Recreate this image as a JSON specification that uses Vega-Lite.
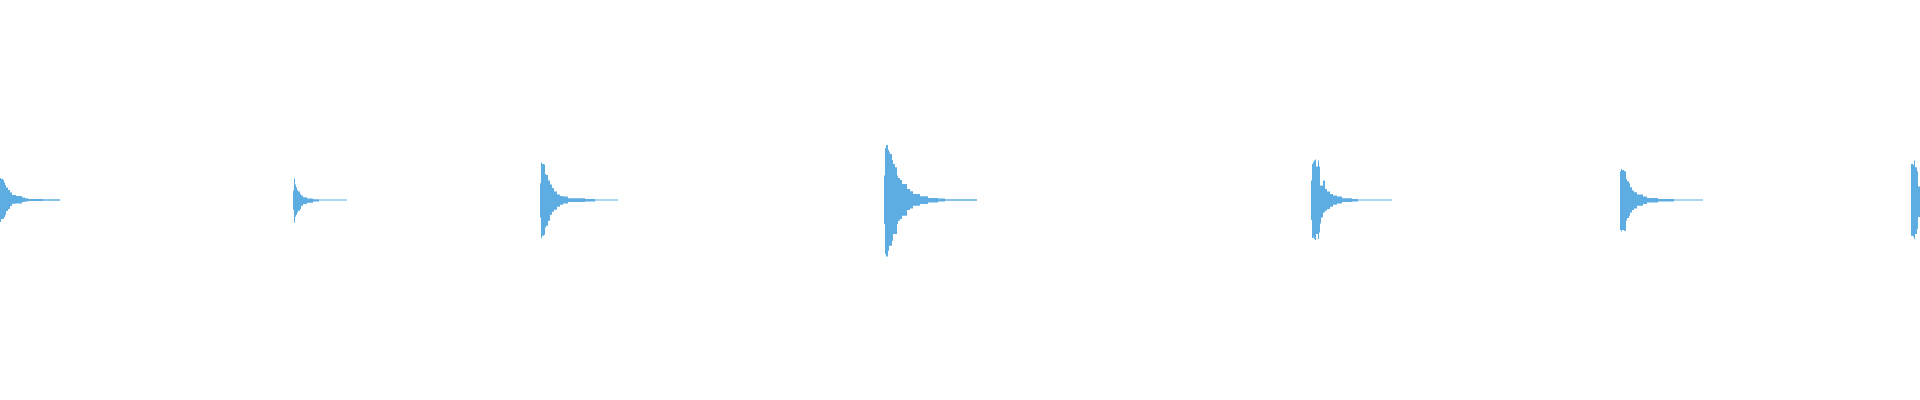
{
  "$schema": "https://vega.github.io/schema/vega-lite/v6.json",
  "description": "Audio waveform with seven decaying hits",
  "width": 1920,
  "height": 400,
  "autosize": {"type": "fit", "contains": "padding"},
  "padding": 0,
  "background": "white",
  "data": {
    "values": [
      {"b": 1, "t": 0, "hi": 0.110, "lo": -0.110},
      {"b": 1, "t": 1, "hi": 0.105, "lo": -0.095},
      {"b": 1, "t": 3, "hi": 0.100, "lo": -0.095},
      {"b": 1, "t": 4, "hi": 0.088, "lo": -0.085},
      {"b": 1, "t": 5, "hi": 0.075, "lo": -0.075},
      {"b": 1, "t": 6, "hi": 0.063, "lo": -0.055},
      {"b": 1, "t": 8, "hi": 0.050, "lo": -0.045},
      {"b": 1, "t": 10, "hi": 0.037, "lo": -0.030},
      {"b": 1, "t": 12, "hi": 0.025, "lo": -0.019},
      {"b": 1, "t": 16, "hi": 0.020, "lo": -0.017},
      {"b": 1, "t": 22, "hi": 0.013, "lo": -0.010},
      {"b": 1, "t": 25, "hi": 0.009, "lo": -0.008},
      {"b": 1, "t": 28, "hi": 0.005, "lo": -0.005},
      {"b": 1, "t": 43, "hi": 0.004, "lo": -0.004},
      {"b": 1, "t": 60, "hi": 0.004, "lo": -0.004},

      {"b": 2, "t": 293, "hi": 0.047, "lo": -0.049},
      {"b": 2, "t": 294, "hi": 0.107, "lo": -0.112},
      {"b": 2, "t": 295, "hi": 0.077, "lo": -0.084},
      {"b": 2, "t": 296, "hi": 0.064, "lo": -0.074},
      {"b": 2, "t": 297, "hi": 0.050, "lo": -0.062},
      {"b": 2, "t": 298, "hi": 0.042, "lo": -0.054},
      {"b": 2, "t": 300, "hi": 0.030, "lo": -0.045},
      {"b": 2, "t": 301, "hi": 0.022, "lo": -0.029},
      {"b": 2, "t": 303, "hi": 0.014, "lo": -0.020},
      {"b": 2, "t": 307, "hi": 0.007, "lo": -0.014},
      {"b": 2, "t": 313, "hi": 0.004, "lo": -0.007},
      {"b": 2, "t": 319, "hi": 0.003, "lo": -0.003},
      {"b": 2, "t": 347, "hi": 0.003, "lo": -0.003},

      {"b": 3, "t": 540, "hi": 0.084, "lo": -0.087},
      {"b": 3, "t": 541, "hi": 0.187, "lo": -0.190},
      {"b": 3, "t": 542, "hi": 0.180, "lo": -0.179},
      {"b": 3, "t": 544, "hi": 0.177, "lo": -0.174},
      {"b": 3, "t": 545, "hi": 0.130, "lo": -0.137},
      {"b": 3, "t": 546, "hi": 0.125, "lo": -0.129},
      {"b": 3, "t": 548, "hi": 0.097, "lo": -0.104},
      {"b": 3, "t": 550, "hi": 0.077, "lo": -0.074},
      {"b": 3, "t": 552, "hi": 0.060, "lo": -0.059},
      {"b": 3, "t": 554, "hi": 0.042, "lo": -0.049},
      {"b": 3, "t": 557, "hi": 0.027, "lo": -0.034},
      {"b": 3, "t": 560, "hi": 0.020, "lo": -0.024},
      {"b": 3, "t": 563, "hi": 0.017, "lo": -0.017},
      {"b": 3, "t": 568, "hi": 0.009, "lo": -0.010},
      {"b": 3, "t": 585, "hi": 0.005, "lo": -0.007},
      {"b": 3, "t": 595, "hi": 0.003, "lo": -0.003},
      {"b": 3, "t": 618, "hi": 0.003, "lo": -0.003},

      {"b": 4, "t": 884, "hi": 0.122, "lo": -0.120},
      {"b": 4, "t": 885, "hi": 0.259, "lo": -0.270},
      {"b": 4, "t": 886, "hi": 0.275, "lo": -0.282},
      {"b": 4, "t": 888, "hi": 0.250, "lo": -0.254},
      {"b": 4, "t": 889, "hi": 0.239, "lo": -0.229},
      {"b": 4, "t": 890, "hi": 0.230, "lo": -0.229},
      {"b": 4, "t": 892, "hi": 0.200, "lo": -0.204},
      {"b": 4, "t": 893, "hi": 0.180, "lo": -0.170},
      {"b": 4, "t": 895, "hi": 0.164, "lo": -0.170},
      {"b": 4, "t": 897, "hi": 0.122, "lo": -0.120},
      {"b": 4, "t": 898, "hi": 0.110, "lo": -0.104},
      {"b": 4, "t": 900, "hi": 0.100, "lo": -0.095},
      {"b": 4, "t": 902, "hi": 0.080, "lo": -0.079},
      {"b": 4, "t": 907, "hi": 0.055, "lo": -0.050},
      {"b": 4, "t": 910, "hi": 0.044, "lo": -0.042},
      {"b": 4, "t": 913, "hi": 0.030, "lo": -0.029},
      {"b": 4, "t": 920, "hi": 0.019, "lo": -0.020},
      {"b": 4, "t": 928, "hi": 0.010, "lo": -0.012},
      {"b": 4, "t": 938, "hi": 0.007, "lo": -0.007},
      {"b": 4, "t": 945, "hi": 0.004, "lo": -0.004},
      {"b": 4, "t": 977, "hi": 0.004, "lo": -0.004},

      {"b": 5, "t": 1311, "hi": 0.097, "lo": -0.100},
      {"b": 5, "t": 1312, "hi": 0.180, "lo": -0.190},
      {"b": 5, "t": 1313, "hi": 0.189, "lo": -0.187},
      {"b": 5, "t": 1314, "hi": 0.197, "lo": -0.195},
      {"b": 5, "t": 1315, "hi": 0.202, "lo": -0.200},
      {"b": 5, "t": 1316, "hi": 0.167, "lo": -0.170},
      {"b": 5, "t": 1318, "hi": 0.197, "lo": -0.195},
      {"b": 5, "t": 1319, "hi": 0.167, "lo": -0.162},
      {"b": 5, "t": 1320, "hi": 0.072, "lo": -0.117},
      {"b": 5, "t": 1321, "hi": 0.072, "lo": -0.087},
      {"b": 5, "t": 1323, "hi": 0.097, "lo": -0.062},
      {"b": 5, "t": 1325, "hi": 0.055, "lo": -0.054},
      {"b": 5, "t": 1327, "hi": 0.042, "lo": -0.045},
      {"b": 5, "t": 1330, "hi": 0.030, "lo": -0.034},
      {"b": 5, "t": 1333, "hi": 0.022, "lo": -0.024},
      {"b": 5, "t": 1337, "hi": 0.017, "lo": -0.017},
      {"b": 5, "t": 1342, "hi": 0.009, "lo": -0.010},
      {"b": 5, "t": 1352, "hi": 0.005, "lo": -0.007},
      {"b": 5, "t": 1358, "hi": 0.003, "lo": -0.003},
      {"b": 5, "t": 1392, "hi": 0.003, "lo": -0.003},

      {"b": 6, "t": 1620, "hi": 0.144, "lo": -0.150},
      {"b": 6, "t": 1621, "hi": 0.155, "lo": -0.157},
      {"b": 6, "t": 1622, "hi": 0.150, "lo": -0.150},
      {"b": 6, "t": 1624, "hi": 0.144, "lo": -0.154},
      {"b": 6, "t": 1626, "hi": 0.105, "lo": -0.104},
      {"b": 6, "t": 1627, "hi": 0.094, "lo": -0.090},
      {"b": 6, "t": 1629, "hi": 0.084, "lo": -0.079},
      {"b": 6, "t": 1630, "hi": 0.064, "lo": -0.062},
      {"b": 6, "t": 1632, "hi": 0.047, "lo": -0.050},
      {"b": 6, "t": 1634, "hi": 0.039, "lo": -0.042},
      {"b": 6, "t": 1637, "hi": 0.027, "lo": -0.029},
      {"b": 6, "t": 1643, "hi": 0.017, "lo": -0.020},
      {"b": 6, "t": 1647, "hi": 0.010, "lo": -0.012},
      {"b": 6, "t": 1658, "hi": 0.005, "lo": -0.007},
      {"b": 6, "t": 1674, "hi": 0.003, "lo": -0.003},
      {"b": 6, "t": 1703, "hi": 0.003, "lo": -0.003},

      {"b": 7, "t": 1911, "hi": 0.180, "lo": -0.179},
      {"b": 7, "t": 1913, "hi": 0.175, "lo": -0.184},
      {"b": 7, "t": 1914, "hi": 0.197, "lo": -0.195},
      {"b": 7, "t": 1915, "hi": 0.164, "lo": -0.170},
      {"b": 7, "t": 1917, "hi": 0.144, "lo": -0.145},
      {"b": 7, "t": 1918, "hi": 0.067, "lo": -0.085},
      {"b": 7, "t": 1920, "hi": 0.067, "lo": -0.085}
    ]
  },
  "mark": {"type": "area", "interpolate": "step-after", "color": "#5DADE2", "opacity": 1},
  "encoding": {
    "x": {"field": "t", "type": "quantitative", "scale": {"domain": [0, 1920], "nice": false, "zero": false}, "axis": null},
    "y": {"field": "hi", "type": "quantitative", "scale": {"domain": [-1, 1], "nice": false}, "axis": null},
    "y2": {"field": "lo"},
    "detail": {"field": "b", "type": "nominal"}
  },
  "config": {"view": {"stroke": null}}
}
